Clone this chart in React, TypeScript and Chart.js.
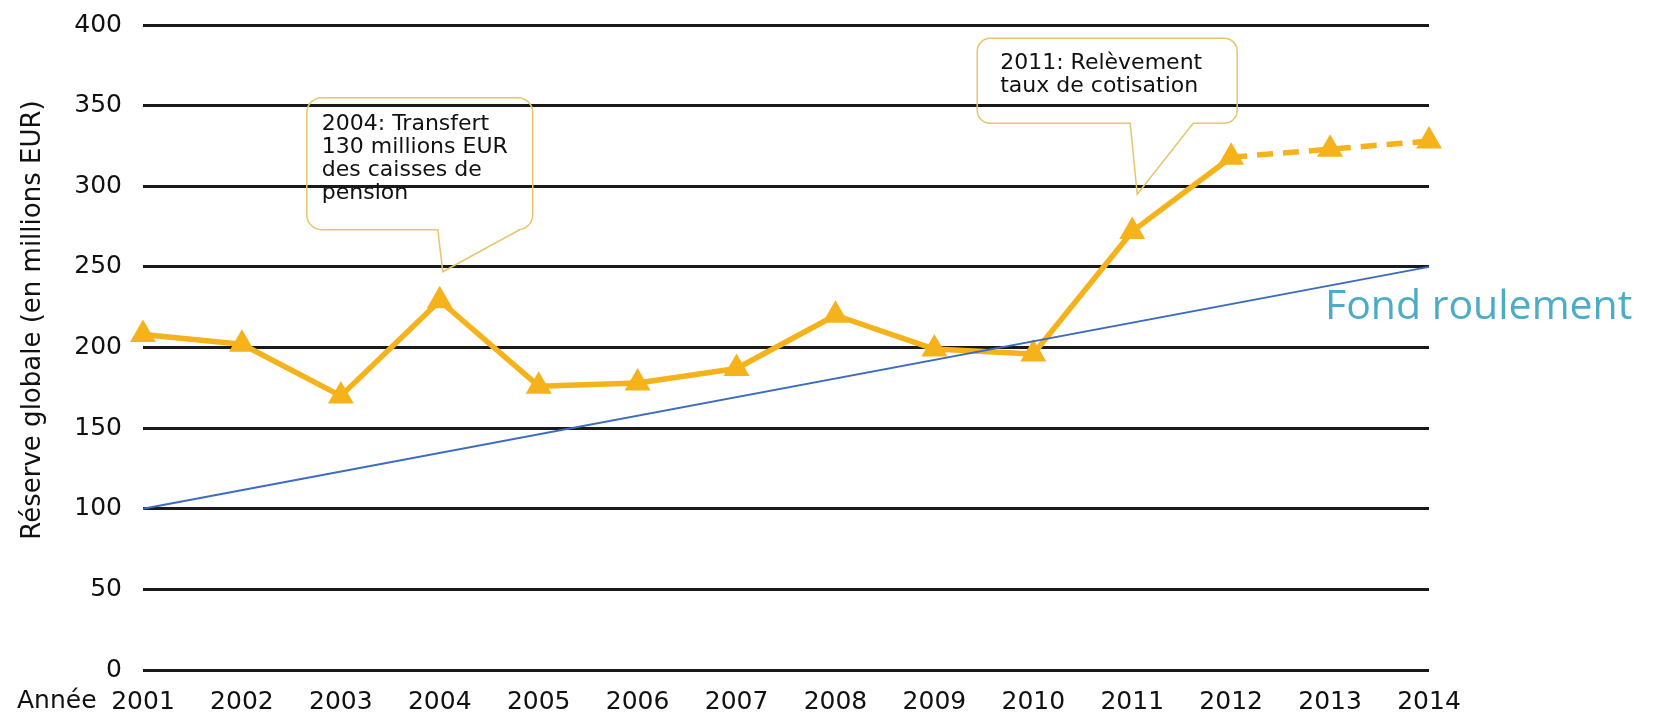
import React, { useEffect, useRef } from 'react';
import { Chart, registerables } from 'chart.js';

Chart.register(...registerables);

const years = ['2001', '2002', '2003', '2004', '2005', '2006', '2007', '2008', '2009', '2010', '2011', '2012', '2013', '2014'];
const reserve = [208, 202, 170, 229, 176, 178, 187, 220, 199, 196, 272, 318, 323, 328];
const fondRoulement = [100, null, null, null, null, null, null, null, null, null, null, null, null, 250];
const yTicks = [0, 50, 100, 150, 200, 250, 300, 350, 400];
const projectedFrom = 11; // 2012 -> 2014 dashed
const yTitle = 'Réserve globale (en millions EUR)';
const xTitle = 'Année';
const note2004 = ['2004: Transfert', '130 millions EUR', 'des caisses de', 'pension'];
const note2011 = ['2011: Relèvement', 'taux de cotisation'];
const fondLabel = 'Fond roulement';

const FONT = '"DejaVu Sans", "Liberation Sans", sans-serif';
const ORANGE = '#f6b21a';
const TEXT = '#111';

function callout(ctx: CanvasRenderingContext2D, l: number, t: number, r: number, b: number, rad: number, pL: number, pR: number, tx: number, ty: number) {
  ctx.beginPath();
  ctx.moveTo(l + rad, t);
  ctx.lineTo(r - rad, t);
  ctx.arcTo(r, t, r, t + rad, rad);
  ctx.lineTo(r, b - rad);
  ctx.arcTo(r, b, r - rad, b, rad);
  ctx.lineTo(pR, b);
  ctx.lineTo(tx, ty);
  ctx.lineTo(pL, b);
  ctx.lineTo(l + rad, b);
  ctx.arcTo(l, b, l, b - rad, rad);
  ctx.lineTo(l, t + rad);
  ctx.arcTo(l, t, l + rad, t, rad);
  ctx.closePath();
  ctx.stroke();
}

const decor = {
  id: 'decor',
  afterDraw(chart: any) {
    const ctx: CanvasRenderingContext2D = chart.ctx;
    const xs = chart.scales.x;
    const ys = chart.scales.y;
    ctx.save();
    // y title
    ctx.save();
    ctx.translate(40, 320);
    ctx.rotate(-Math.PI / 2);
    ctx.font = `26px ${FONT}`;
    ctx.fillStyle = TEXT;
    ctx.textAlign = 'center';
    ctx.textBaseline = 'alphabetic';
    ctx.fillText(yTitle, 0, 0);
    ctx.restore();

    // x title
    ctx.font = `25px ${FONT}`;
    ctx.fillStyle = TEXT;
    ctx.textAlign = 'left';
    ctx.textBaseline = 'alphabetic';
    ctx.fillText(xTitle, 17, 708);

    // callouts
    ctx.strokeStyle = '#e9c46a';
    ctx.lineWidth = 1.5;
    ctx.font = `22px ${FONT}`;
    ctx.fillStyle = TEXT;

    const t1x = xs.getPixelForValue(3) + 3;
    const t1y = ys.getPixelForValue(247);
    const b1 = { l: t1x - 136, r: t1x + 90, t: t1y - 174, b: t1y - 42 };
    callout(ctx, b1.l, b1.t, b1.r, b1.b, 15, t1x - 5, t1x + 77, t1x, t1y);
    note2004.forEach((s, i) => ctx.fillText(s, b1.l + 15, b1.t + 32 + i * 23));

    const t2x = xs.getPixelForValue(10) + 5;
    const t2y = ys.getPixelForValue(295);
    const b2 = { l: t2x - 160, r: t2x + 100, t: t2y - 156, b: t2y - 71 };
    callout(ctx, b2.l, b2.t, b2.r, b2.b, 13, t2x - 7, t2x + 56, t2x, t2y);
    note2011.forEach((s, i) => ctx.fillText(s, b2.l + 23, b2.t + 31 + i * 23));

    // Fond roulement label
    ctx.font = '41px "Open Sans", "Noto Sans", sans-serif';
    ctx.fillStyle = '#4bacc6';
    ctx.fillText(fondLabel, xs.getPixelForValue(13) - 104, ys.getPixelForValue(250) + 52);
    ctx.restore();
  },
};

export default function App() {
  const ref = useRef<HTMLCanvasElement>(null);
  useEffect(() => {
    if (!ref.current) return;
    const chart = new Chart(ref.current, {
      type: 'line',
      data: {
        labels: years,
        datasets: [
          {
            label: 'Fond roulement',
            data: fondRoulement,
            borderColor: '#3b6cc0',
            borderWidth: 2,
            pointRadius: 0,
            spanGaps: true,
            tension: 0,
            order: 1,
          },
          {
            label: 'Réserve globale',
            data: reserve,
            borderColor: ORANGE,
            backgroundColor: ORANGE,
            borderWidth: 5.5,
            borderJoinStyle: 'round',
            pointStyle: 'triangle',
            pointRadius: 15,
            pointBorderWidth: 0,
            pointBackgroundColor: ORANGE,
            tension: 0,
            order: 2,
            segment: {
              borderDash: (c: any) => (c.p0DataIndex >= projectedFrom ? [16, 10] : undefined),
            },
          },
        ],
      },
      options: {
        responsive: false,
        animation: false,
        devicePixelRatio: 1,
        layout: { padding: { left: 0, top: 25, right: 227, bottom: 0 } },
        plugins: { legend: { display: false }, tooltip: { enabled: false } },
        scales: {
          x: {
            type: 'category',
            offset: false,
            grid: { display: false },
            border: { display: false },
            ticks: {
              font: { family: FONT, size: 25 },
              color: TEXT,
              padding: 9,
              maxRotation: 0,
              autoSkip: false,
            },
            afterFit: (s: any) => {
              s.height = 42;
              s.paddingLeft = 0;
              s.paddingRight = 0;
            },
          },
          y: {
            min: 0,
            max: 400,
            afterBuildTicks: (s: any) => {
              s.ticks = yTicks.map((v) => ({ value: v }));
            },
            ticks: {
              font: { family: FONT, size: 25 },
              color: TEXT,
              padding: 21,
            },
            grid: { color: '#1a1a1a', lineWidth: 3, drawTicks: false },
            border: { display: false },
            afterFit: (s: any) => {
              s.width = 143;
              s.paddingTop = 0;
              s.paddingBottom = 0;
            },
          },
        },
      } as any,
      plugins: [decor],
    });
    return () => chart.destroy();
  }, []);
  return (
    <div style={{ position: 'absolute', left: 0, top: 0, width: 1656, height: 712, background: '#fff' }}>
      <canvas ref={ref} width={1656} height={712} />
    </div>
  );
}
